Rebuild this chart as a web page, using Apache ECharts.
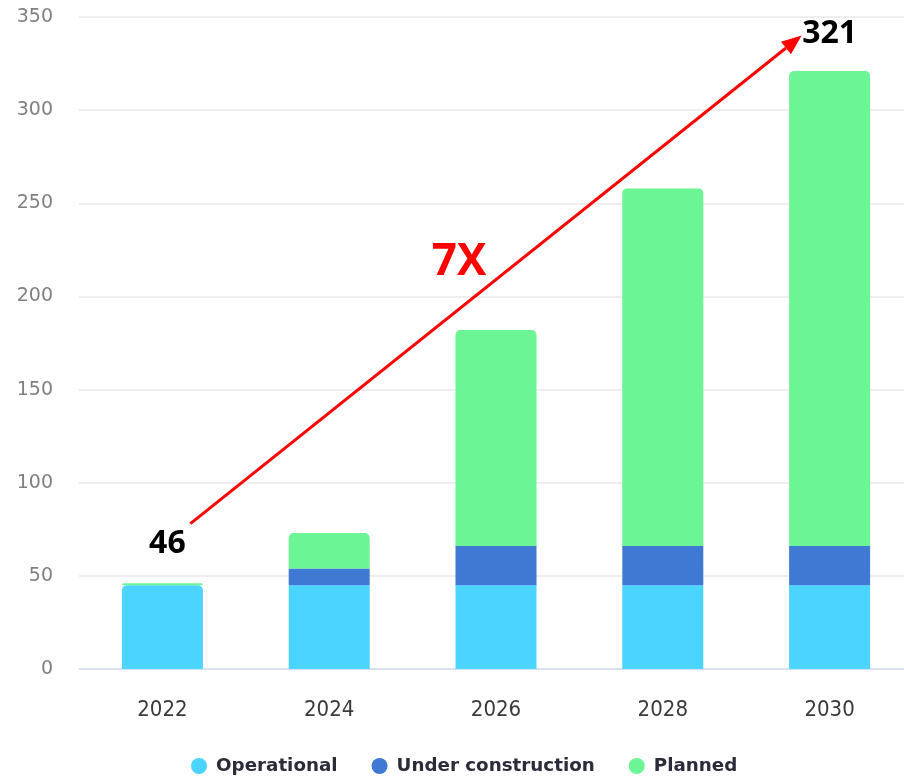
<!DOCTYPE html>
<html>
<head>
<meta charset="utf-8">
<title>Capacity outlook</title>
<script src="https://cdn.jsdelivr.net/npm/echarts@6/dist/echarts.min.js"></script>
<style>
  html, body { margin: 0; padding: 0; background: #ffffff; }
  #chart { width: 904px; height: 779px; }
</style>
</head>
<body>
<div id="chart"></div>
<script>
// Categories (years) and stacked values per status
const years = ['2022', '2024', '2026', '2028', '2030'];
const operational = [45, 45, 45, 45, 45];
const underConstruction = [0, 9, 21, 21, 21];
const planned = [1, 19, 116, 192, 255];
const yTicks = { min: 0, max: 350, interval: 50 };

const totals = years.map((_, i) => operational[i] + underConstruction[i] + planned[i]);
const firstTotal = totals[0];
const lastTotal = totals[totals.length - 1];
const growthText = Math.round(lastTotal / firstTotal) + 'X';

// Arrow anchors in data space (category, value)
const arrowFrom = [years[0], 78];
const arrowTo = [years[years.length - 1], 339];

const chart = echarts.init(document.getElementById('chart'), null, { renderer: 'canvas' });

const endLabel = {
  show: true,
  position: 'top',
  distance: 21,
  fontFamily: 'Open Sans',
  fontWeight: 'bold',
  fontSize: 32,
  color: '#000000',
  formatter: p => (p.dataIndex === 0 || p.dataIndex === years.length - 1) ? String(totals[p.dataIndex]) : ''
};

chart.setOption({
  animation: false,
  grid: { left: 79, width: 834, top: 17, bottom: 110, outerBoundsMode: 'none', containLabel: false },
  legend: {
    top: 752,
    left: 186,
    icon: 'circle',
    itemWidth: 24,
    itemHeight: 16,
    itemGap: 34,
    textStyle: { fontFamily: 'DejaVu Sans', fontWeight: 'bold', fontSize: 18.3, color: '#2b2b3a' },
    data: ['Operational', 'Under construction', 'Planned']
  },
  xAxis: {
    type: 'category',
    data: years,
    axisTick: { show: false },
    axisLine: { lineStyle: { color: '#d3dbee', width: 1.5 } },
    axisLabel: { margin: 30, fontFamily: '"DejaVu Sans Condensed", "Liberation Sans Narrow", Roboto', fontSize: 22, color: '#3a3a3a' }
  },
  yAxis: {
    type: 'value',
    min: yTicks.min,
    max: yTicks.max,
    interval: yTicks.interval,
    axisLabel: { margin: 26, fontFamily: 'DejaVu Sans', fontSize: 19, color: '#808080' },
    splitLine: { lineStyle: { color: '#e9e9ec', width: 1.5 } }
  },
  series: [
    {
      name: 'Operational', type: 'bar', stack: 'total', barWidth: 81,
      itemStyle: { color: '#4ad4ff' },
      data: operational.map((v, i) => i === 0 ? { value: v, itemStyle: { borderRadius: [5, 5, 0, 0] } } : v)
    },
    {
      name: 'Under construction', type: 'bar', stack: 'total', barWidth: 81,
      itemStyle: { color: '#3f79d4' },
      data: underConstruction
    },
    {
      name: 'Planned', type: 'bar', stack: 'total', barWidth: 81,
      itemStyle: { color: '#6cf594', borderRadius: [5, 5, 0, 0] },
      label: endLabel,
      data: planned.map((v, i) => i === 0 ? { value: v, label: { offset: [5, -2] } } : v)
    }
  ]
});

// Growth arrow and multiplier drawn from the axis scales
function drawArrow() {
  const a = chart.convertToPixel({ seriesIndex: 0 }, arrowFrom);
  const b = chart.convertToPixel({ seriesIndex: 0 }, arrowTo);
  const x1 = a[0] + 28, y1 = a[1];
  const x2 = b[0] - 28, y2 = b[1] - 2;
  const ang = Math.atan2(y2 - y1, x2 - x1);
  const headLen = 20, headHalf = 8;
  const bx = x2 - headLen * Math.cos(ang), by = y2 - headLen * Math.sin(ang);
  const nx = -Math.sin(ang), ny = Math.cos(ang);
  const mid = [(x1 + x2) / 2, (y1 + y2) / 2];
  chart.setOption({
    graphic: [
      {
        type: 'line', silent: true,
        shape: { x1: x1, y1: y1, x2: bx, y2: by },
        style: { stroke: '#ff0000', lineWidth: 3 }
      },
      {
        type: 'polygon', silent: true,
        shape: { points: [[x2, y2], [bx + nx * headHalf, by + ny * headHalf], [bx - nx * headHalf, by - ny * headHalf]] },
        style: { fill: '#ff0000' }
      },
      {
        type: 'text', silent: true,
        x: mid[0] - 37, y: mid[1] - 17,
        style: {
          text: growthText, fill: '#ff0000',
          font: 'bold 44px "Open Sans"',
          align: 'center', verticalAlign: 'middle'
        }
      }
    ]
  });
}
drawArrow();
</script>
</body>
</html>
